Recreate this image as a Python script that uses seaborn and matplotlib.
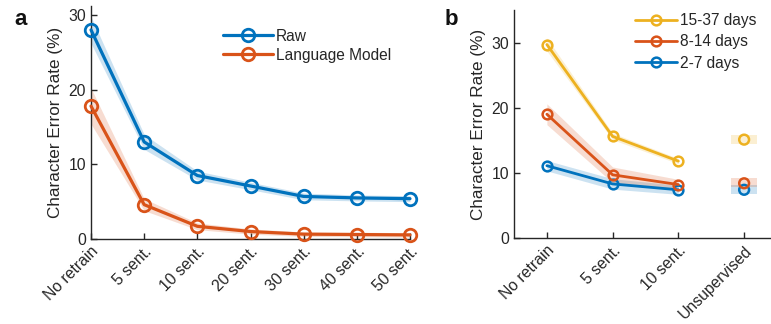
import numpy as np
import pandas as pd
import matplotlib
matplotlib.use("Agg")
import matplotlib.pyplot as plt
from matplotlib.lines import Line2D
import seaborn as sns

# ---------------- data ----------------
cats_a = ["No retrain", "5 sent.", "10 sent.", "20 sent.", "30 sent.", "40 sent.", "50 sent."]
raw_mean = [28.0, 13.0, 8.5, 7.1, 5.7, 5.5, 5.4]
raw_err = [1.8, 1.0, 0.6, 0.5, 0.45, 0.4, 0.4]
lm_mean = [17.8, 4.6, 1.7, 1.0, 0.65, 0.6, 0.55]
lm_err = [2.4, 0.8, 0.45, 0.35, 0.3, 0.3, 0.3]

cats_b = ["No retrain", "5 sent.", "10 sent.", "Unsupervised"]
d15_mean = [29.7, 15.6, 11.8]
d15_err = [1.0, 0.5, 0.4]
d15_unsup = 15.1
d15_unsup_band = [14.4, 15.8]
d8_mean = [19.0, 9.7, 8.2]
d8_err = [1.6, 1.2, 0.8]
d8_unsup = 8.4
d8_unsup_band = [7.8, 9.2]
d2_mean = [11.1, 8.3, 7.4]
d2_err = [0.8, 0.8, 0.7]
d2_unsup = 7.4
d2_unsup_band = [6.8, 8.2]

BLUE = "#0072BD"
ORANGE = "#D95319"
YELLOW = "#EDB120"

sns.set_style("ticks")
plt.rcParams["font.family"] = ["Liberation Sans", "DejaVu Sans"]
plt.rcParams["axes.edgecolor"] = "#262626"
plt.rcParams["axes.linewidth"] = 1.0
plt.rcParams["xtick.color"] = "#262626"
plt.rcParams["ytick.color"] = "#262626"

fig = plt.figure(figsize=(7.71, 3.24), dpi=100)
W, H = 771, 324
axa = fig.add_axes([91 / W, 1 - 239 / H, (410 - 91) / W, (239 - 6) / H])
axb = fig.add_axes([514 / W, 1 - 238 / H, (777 - 514) / W, (238 - 10) / H])

label_fs = 12.3
tick_fs = 11.3
leg_fs = 11.2


def draw_series(ax, xs, mean, err, color, lw, ms, mew, label):
    df = pd.DataFrame({"x": xs, "y": mean})
    lo = np.array(mean) - np.array(err)
    hi = np.array(mean) + np.array(err)
    ax.fill_between(xs, lo, hi, color=color, alpha=0.2, linewidth=0, zorder=1)
    sns.lineplot(data=df, x="x", y="y", ax=ax, color=color, lw=lw, marker="o",
                 markersize=ms, markerfacecolor="none", markeredgecolor=color,
                 markeredgewidth=mew, clip_on=False, label=label, legend=False,
                 zorder=3)


# ---------------- panel a ----------------
xa = np.arange(1, len(cats_a) + 1)
draw_series(axa, xa, raw_mean, raw_err, BLUE, 2.3, 9, 2.0, "Raw")
draw_series(axa, xa, lm_mean, lm_err, ORANGE, 2.3, 9, 2.0, "Language Model")
axa.set_xlim(1, 7)
axa.set_ylim(0, 31.2)
axa.set_yticks([0, 10, 20, 30])
axa.set_xticks(xa)
axa.set_xticklabels(cats_a, rotation=45, ha="right", rotation_mode="anchor")
axa.set_xlabel("")
axa.set_ylabel("Character Error Rate (%)", fontsize=label_fs, color="#262626", labelpad=4)
axa.tick_params(direction="in", length=4, width=1, labelsize=tick_fs)
sns.despine(ax=axa)

ha = [Line2D([], [], color=c, lw=2.3, marker="o", ms=9, mfc="none", mec=c, mew=2.0)
      for c in (BLUE, ORANGE)]
axa.legend(ha, ["Raw", "Language Model"], loc="upper left",
           bbox_to_anchor=(0.365, 0.97), frameon=False, fontsize=leg_fs,
           handlelength=3.2, handletextpad=0.2, labelspacing=0.28, borderpad=0.5)

# ---------------- panel b ----------------
xb = np.arange(1, 4)
draw_series(axb, xb, d2_mean, d2_err, BLUE, 2.0, 7, 1.8, "2-7 days")
draw_series(axb, xb, d8_mean, d8_err, ORANGE, 2.0, 7, 1.8, "8-14 days")
draw_series(axb, xb, d15_mean, d15_err, YELLOW, 2.0, 7, 1.8, "15-37 days")
for m, band, c in [(d2_unsup, d2_unsup_band, BLUE), (d8_unsup, d8_unsup_band, ORANGE),
                   (d15_unsup, d15_unsup_band, YELLOW)]:
    axb.fill_between([3.8, 4.2], [band[0]] * 2, [band[1]] * 2, color=c, alpha=0.2,
                     linewidth=0, zorder=1)
    sns.scatterplot(x=[4], y=[m], ax=axb, marker="o", s=50, facecolor="none",
                    edgecolor=c, linewidth=1.8, zorder=3, legend=False)
axb.set_xlim(0.5, 4.5)
axb.set_ylim(0, 35)
axb.set_yticks([0, 10, 20, 30])
axb.set_xticks(np.arange(1, 5))
axb.set_xticklabels(cats_b, rotation=45, ha="right", rotation_mode="anchor")
axb.set_xlabel("")
axb.set_ylabel("Character Error Rate (%)", fontsize=label_fs, color="#262626", labelpad=4)
axb.tick_params(direction="in", length=4, width=1, labelsize=tick_fs)
sns.despine(ax=axb)

hb = [Line2D([], [], color=c, lw=2.0, marker="o", ms=7, mfc="none", mec=c, mew=1.8)
      for c in (YELLOW, ORANGE, BLUE)]
axb.legend(hb, ["15-37 days", "8-14 days", "2-7 days"], loc="upper left",
           bbox_to_anchor=(0.414, 1.041), frameon=False, fontsize=leg_fs,
           handlelength=2.7, handletextpad=0.2, labelspacing=0.41, borderpad=0.3)

fig.text(14 / W, 1 - 25 / H, "a", fontsize=16, fontweight="bold", color="#111111")
fig.text(445 / W, 1 - 25 / H, "b", fontsize=16, fontweight="bold", color="#111111")

fig.savefig("out.png", dpi=100)
